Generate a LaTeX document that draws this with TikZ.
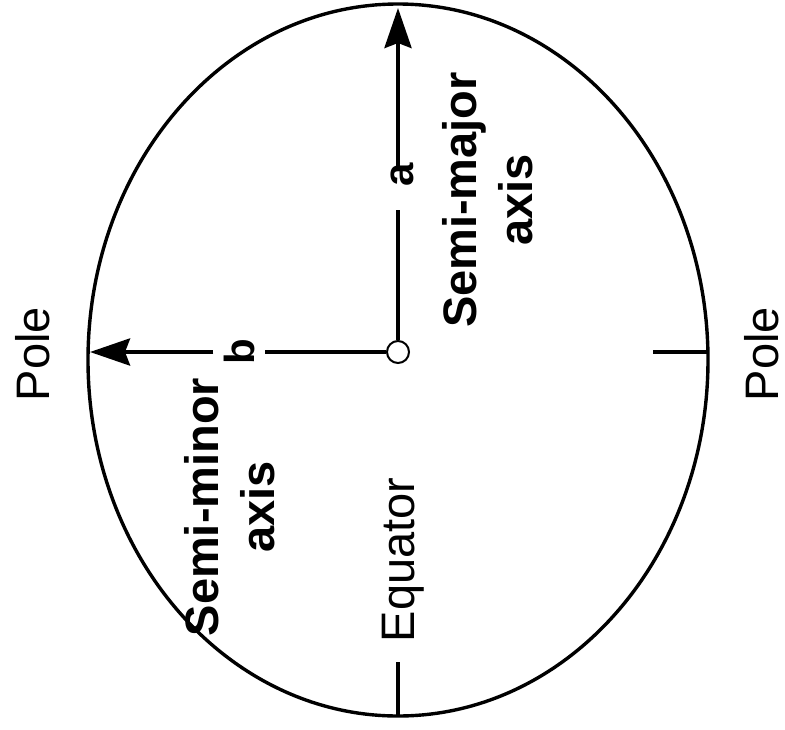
\documentclass[tikz,border=0pt]{standalone}
\usepackage{fontspec}
\setmainfont{Liberation Sans}
\usetikzlibrary{arrows.meta}
\tikzset{
	outline/.style={draw=black,line width=3.4pt},
	tickline/.style={draw=black,line width=3.2pt},
	axisline/.style={draw=black,line width=4.2pt},
	axisarrow/.style={axisline,-{Stealth[length=40pt,width=27pt,inset=5pt]}},
	centre/.style={circle,draw=black,fill=white,minimum size=22pt,inner sep=0pt,line width=2pt},
	letterlabel/.style={rotate=90,inner sep=0pt,font=\bfseries\fontsize{42}{50}\selectfont},
	textlabel/.style={rotate=90,inner sep=0pt,align=center,font=\fontsize{47}{56}\selectfont},
	boldlabel/.style={textlabel,font=\bfseries\fontsize{47}{56}\selectfont}
}
\begin{document}
\begin{tikzpicture}[x=1pt,y=-1pt]
	\useasboundingbox (0,0) rectangle (785,729);
	\draw[outline] (398,360) ellipse [x radius=310pt,y radius=356pt];
	\node[centre] (c) at (398,352) {};
	\coordinate (atip) at (398,8);
	\coordinate (btip) at (90,352);
	\coordinate (alow) at (398,210);
	\coordinate (ahigh) at (398,166);
	\node[letterlabel] (a) at (402,175) {a};
	\node[letterlabel,inner sep=10pt] (b) at (239,352) {b};
	\draw[axisline] (c) -- (alow);
	\draw[axisarrow] (ahigh) -- (atip);
	\draw[axisline] (c) -- (b);
	\draw[axisarrow] (b) -- (btip);
	% pole and equator ticks
	\coordinate (eq) at (398,716);
	\coordinate (po) at (708,352);
	\draw[tickline] (398,662) -- (eq);
	\draw[tickline] (653,352) -- (po);
	% labels
	\node[textlabel] (poleleft) at (33,354) {Pole};
	\node[textlabel] (poleright) at (762,354) {Pole};
	\node[textlabel] (equator) at (403,560) {Equator};
	\node[boldlabel] (minor) at (230,507) {Semi-minor\\axis};
	\node[boldlabel] (major) at (488,200) {Semi-major\\axis};
\end{tikzpicture}
\end{document}
